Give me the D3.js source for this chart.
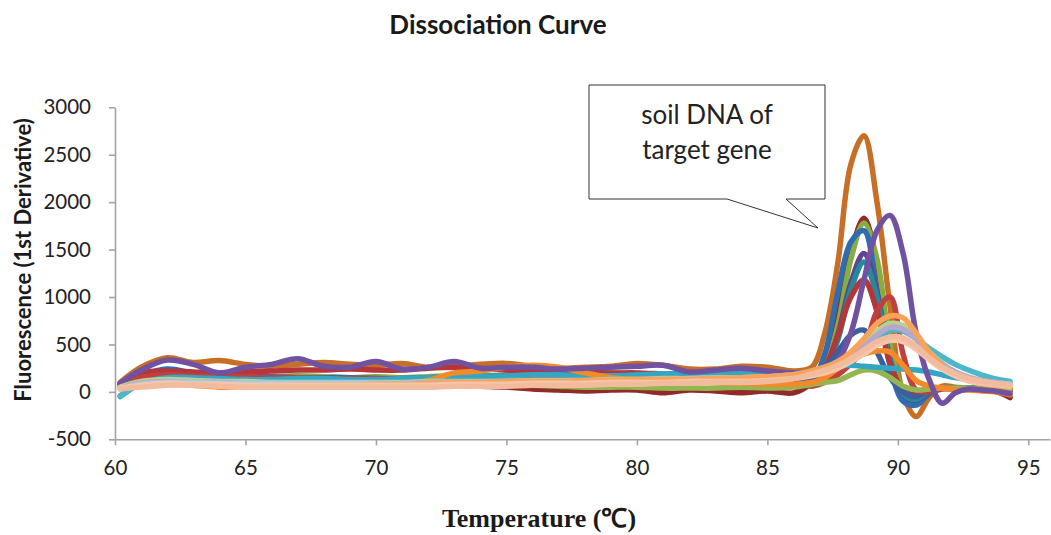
<!DOCTYPE html>
<html>
<head>
<meta charset="utf-8">
<script src="https://d3js.org/d3.v7.min.js"></script>
<style>
  body { margin: 0; background: #fff; }
  svg { display: block; }
</style>
</head>
<body>
<svg id="chart" width="1051" height="535"></svg>
<script>
// temperature grid (°C), finer around the melt peaks
const temps = [60.2,61,62,63,64,65,66,67,68,69,70,71,72,73,74,75,76,77,78,79,80,81,82,83,84,85,86,
               86.7,87.2,87.7,88.2,88.7,89.2,89.7,90.2,90.7,91.2,91.7,92.2,92.7,93.2,93.7,94.3];

// -dF/dT values, one array per well
const orangeBrown = [100,260,360,310,330,290,270,290,310,290,280,300,260,270,290,300,270,250,260,270,300,280,240,240,270,260,220,
                     260,620,1360,2400,2700,2000,900,-20,-260,-60,60,50,40,40,30,20];
const darkRed     = [90,180,200,190,180,170,160,150,140,130,120,100,80,70,60,50,30,20,10,20,20,-10,20,10,-10,10,-10,
                     100,300,800,1450,1830,1350,450,-20,-120,-20,40,30,30,20,10,-60];
const green       = [80,180,200,190,180,170,160,170,160,150,160,150,160,170,170,180,190,200,210,200,190,180,170,160,150,150,160,
                     80,250,700,1400,1780,1400,500,20,-80,0,40,40,40,30,30,20];
const blue        = [70,170,240,200,180,170,160,150,150,150,140,140,150,150,160,170,170,160,150,150,140,150,160,160,170,170,190,
                     120,400,1050,1580,1700,1050,280,-100,-140,-20,40,40,40,30,30,30];
const darkPurple  = [60,120,150,140,130,120,110,110,110,100,100,100,110,110,110,120,120,120,120,130,130,130,140,140,150,150,170,
                     80,220,600,1150,1460,1050,350,-30,-90,0,40,40,40,30,30,30];
const teal        = [40,130,160,150,140,130,120,120,120,120,110,110,120,120,120,130,130,130,130,140,140,140,140,150,150,150,160,
                     70,200,550,1080,1370,1000,330,-20,-80,10,40,40,40,30,30,30];
const redA        = [80,200,220,210,200,210,220,230,230,240,230,230,250,260,250,230,220,210,210,200,200,190,180,170,170,160,150,
                     90,250,600,1000,1180,850,300,20,-30,20,40,30,30,30,20,20];
const navy        = [50,100,120,110,110,100,100,100,100,100,90,90,100,100,100,110,110,110,110,110,120,120,120,120,120,130,140,
                     150,250,420,600,650,420,150,0,-50,20,40,40,30,30,30,20];
const redB        = [70,150,180,170,160,160,150,150,140,140,140,130,130,130,130,140,140,140,150,150,150,150,150,150,140,140,100,
                     60,100,180,300,450,850,1000,400,20,0,30,30,30,30,30,10];
const olive       = [60,100,120,110,100,100,90,90,90,80,80,80,70,70,80,80,70,60,50,50,50,40,40,40,50,40,50,
                     80,100,120,180,230,220,150,60,20,30,40,40,40,30,30,30];
const cyan        = [-50,90,150,150,140,130,130,140,140,130,130,140,150,160,160,170,180,180,170,170,180,190,190,200,200,190,190,
                     210,240,270,280,270,260,250,240,230,210,180,150,130,110,100,90];
const orange      = [60,80,100,70,50,60,60,70,60,60,70,80,120,200,220,260,280,260,200,150,130,120,110,100,90,80,80,
                     100,150,250,330,400,430,420,280,120,60,40,20,20,10,0,-30];
const purple      = [90,230,335,290,200,260,290,350,270,260,320,240,260,320,250,260,260,240,250,260,270,280,210,230,250,220,200,
                     200,250,330,620,1180,1700,1860,1460,620,130,-120,-10,30,20,10,-20];
const lightCyan   = [-40,90,120,120,110,100,100,100,100,100,100,100,110,110,110,120,120,120,120,130,130,130,140,140,150,160,180,
                     220,260,320,400,490,580,650,640,560,460,370,290,230,180,140,110];
const lightGreen  = [50,110,130,120,110,110,100,100,100,100,100,100,110,110,110,110,120,120,120,130,130,140,140,150,150,160,180,
                     210,250,310,400,520,640,720,700,580,420,300,210,160,120,100,80];
const lightPurple = [40,90,110,100,100,90,90,90,90,90,90,90,100,100,100,110,110,110,110,120,120,130,130,140,140,150,170,
                     200,240,290,380,480,600,680,660,560,410,290,210,150,120,100,80];
const lightBlue   = [30,80,100,100,90,90,90,90,90,90,90,90,90,100,100,100,100,110,110,110,120,120,120,130,130,140,160,
                     180,220,260,330,420,510,570,560,480,360,260,190,140,110,90,80];
const lightOrange = [40,60,80,70,60,60,60,70,70,70,80,80,90,100,100,110,110,110,120,120,130,130,130,140,150,160,180,
                     220,260,320,420,560,720,800,780,620,420,270,170,120,90,70,50];
const peach2      = [40,70,90,80,80,70,70,70,70,70,70,70,70,80,80,80,90,90,90,100,100,100,110,110,110,120,140,
                     170,200,250,320,400,490,540,530,450,340,240,170,120,90,80,60];
const peach       = [30,50,70,70,60,50,50,50,50,50,50,50,50,60,60,60,70,70,70,80,80,90,90,100,100,110,140,
                     190,230,280,350,440,530,580,570,480,360,260,190,140,110,90,70];

const xTicks = [60,65,70,75,80,85,90,95];
const yTicks = [-500,0,500,1000,1500,2000,2500,3000];

const wells = [
  {values: orangeBrown, color: "#C86F27"},
  {values: darkRed,     color: "#922A2A"},
  {values: green,       color: "#86AC44"},
  {values: blue,        color: "#2F6DB0"},
  {values: darkPurple,  color: "#5E4592"},
  {values: teal,        color: "#23899B"},
  {values: redA,        color: "#B5363A"},
  {values: navy,        color: "#3D5E9E"},
  {values: redB,        color: "#C0403F"},
  {values: olive,       color: "#92B650"},
  {values: cyan,        color: "#34A6C3"},
  {values: orange,      color: "#F28A2A"},
  {values: purple,      color: "#7152A1"},
  {values: lightCyan,   color: "#4FB5CB"},
  {values: lightGreen,  color: "#B9D08F"},
  {values: lightPurple, color: "#B6A8CC"},
  {values: lightBlue,   color: "#A6CDE2"},
  {values: lightOrange, color: "#F8A25A"},
  {values: peach2,      color: "#F6C6AC"},
  {values: peach,       color: "#F3BB9D"}
];

const svg = d3.select("#chart");
const sans = "Lato, 'Open Sans', sans-serif";
const axisColor = "#A3A3A3";

const x = d3.scaleLinear().domain([60, 95.83]).range([115, 1050]);
const y = d3.scaleLinear().domain([-500, 3000]).range([439.3, 107.3]);

// axes (plain numbers, hyphen minus like the source)
const plain = function(d) { return String(d); };
const xAxis = svg.append("g")
  .attr("transform", "translate(0," + y(-500) + ")")
  .call(d3.axisBottom(x).tickValues(xTicks).tickFormat(plain).tickSize(6).tickPadding(15).tickSizeOuter(0));
const yAxis = svg.append("g")
  .attr("transform", "translate(" + x(60) + ",0)")
  .call(d3.axisLeft(y).tickValues(yTicks).tickFormat(plain).tickSize(6).tickPadding(18).tickSizeOuter(0));

[xAxis, yAxis].forEach(function(g) {
  g.select(".domain").attr("stroke", axisColor).attr("stroke-width", 1.6);
  g.selectAll(".tick line").attr("stroke", axisColor).attr("stroke-width", 1.6);
  g.selectAll(".tick text")
    .attr("fill", "#222")
    .style("font-family", sans)
    .style("font-size", "20.5px");
});

// curves
const line = d3.line()
  .x(function(d) { return x(d[0]); })
  .y(function(d) { return y(d[1]); })
  .curve(d3.curveCatmullRom.alpha(0.5));

svg.append("g")
  .selectAll("path")
  .data(wells)
  .enter().append("path")
  .attr("d", function(w) { return line(temps.map(function(t, i) { return [t, w.values[i]]; })); })
  .attr("fill", "none")
  .attr("stroke", function(w) { return w.color; })
  .attr("stroke-width", 5.5)
  .attr("stroke-linejoin", "round")
  .attr("stroke-linecap", "round");

// titles
svg.append("text")
  .attr("x", 498).attr("y", 34)
  .attr("text-anchor", "middle")
  .style("font-family", sans).style("font-weight", "bold").style("font-size", "26px")
  .attr("fill", "#1a1a1a")
  .text("Dissociation Curve");

svg.append("text")
  .attr("transform", "translate(31,260) rotate(-90)")
  .attr("text-anchor", "middle")
  .style("font-family", sans).style("font-weight", "bold").style("font-size", "22px")
  .attr("fill", "#1a1a1a")
  .text("Fluorescence (1st Derivative)");

svg.append("text")
  .attr("x", 539).attr("y", 527)
  .attr("text-anchor", "middle")
  .style("font-family", "'Liberation Serif', 'Times New Roman', serif")
  .style("font-weight", "bold").style("font-size", "26px")
  .attr("fill", "#1a1a1a")
  .text("Temperature (℃)");

// callout
svg.append("path")
  .attr("d", "M589,85 H825 V199 H786 L818,228 L727,199 H589 Z")
  .attr("fill", "#fff")
  .attr("stroke", "#333")
  .attr("stroke-width", 1);

svg.append("text")
  .attr("x", 707).attr("y", 124)
  .attr("text-anchor", "middle")
  .style("font-family", sans).style("font-size", "26px")
  .attr("fill", "#222")
  .text("soil DNA of");
svg.append("text")
  .attr("x", 707).attr("y", 159)
  .attr("text-anchor", "middle")
  .style("font-family", sans).style("font-size", "26px")
  .attr("fill", "#222")
  .text("target gene");
</script>
</body>
</html>
